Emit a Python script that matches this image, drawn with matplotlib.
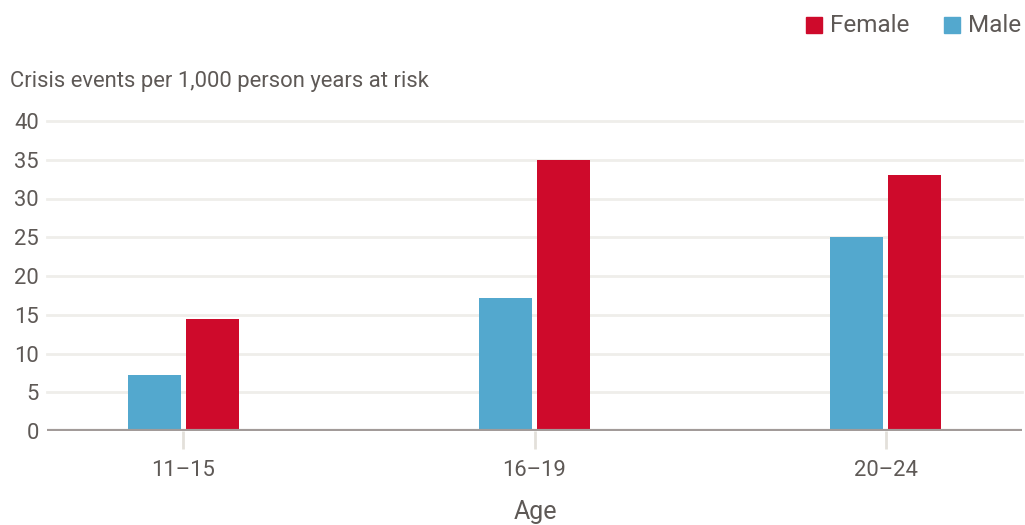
import matplotlib.pyplot as plt
import numpy as np

plt.rcParams['font.family'] = ['Roboto', 'DejaVu Sans']

ages = ['11–15', '16–19', '20–24']
male = [7.2, 17.2, 25.0]
female = [14.5, 35.0, 33.0]
y_ticks = [0, 5, 10, 15, 20, 25, 30, 35, 40]

red = '#ce0a2b'
blue = '#53a8ce'
text_col = '#5e5956'

W, H = 1025, 525
fig = plt.figure(figsize=(W / 100, H / 100), dpi=100)
ax = fig.add_axes([47 / W, (H - 431) / H, (1022 - 47) / W, (431 - 121) / H])

x = np.arange(len(ages))
bw = 0.151
gap = 0.0075
ax.bar(x - gap - bw / 2, male, width=bw, color=blue, zorder=3)
ax.bar(x + gap + bw / 2, female, width=bw, color=red, zorder=3)

ax.set_xlim(-0.388, 2.388)
ax.set_ylim(0, 40)
ax.set_yticks(y_ticks)
ax.set_xticks(x)
ax.set_xticklabels(ages)

for v in y_ticks[1:]:
    ax.axhline(v, color='#efeeea', lw=2, zorder=1, clip_on=False)
ax.axhline(0, color='#a29b99', lw=3, zorder=4)

for s in ax.spines.values():
    s.set_visible(False)
ax.tick_params(axis='y', length=0, pad=6, labelsize=15.8, labelcolor=text_col)
ax.tick_params(axis='x', length=13, width=2, color='#e3e0da', pad=8,
               labelsize=15.8, labelcolor=text_col)

fig.text(10 / W, 1 - 82 / H, 'Crisis events per 1,000 person years at risk',
         ha='left', va='center', fontsize=15.8, color=text_col)
fig.text(535 / W, 1 - 512 / H, 'Age', ha='center', va='center',
         fontsize=18, color=text_col)

# legend
fig.patches.append(plt.Rectangle((806 / W, 1 - 33 / H), 16 / W, 16 / H,
                                 transform=fig.transFigure, color=red))
fig.text(830 / W, 1 - 25 / H, 'Female', ha='left', va='center',
         fontsize=17.5, color=text_col)
fig.patches.append(plt.Rectangle((944 / W, 1 - 33 / H), 16 / W, 16 / H,
                                 transform=fig.transFigure, color=blue))
fig.text(968 / W, 1 - 25 / H, 'Male', ha='left', va='center',
         fontsize=17.5, color=text_col)

fig.savefig('out.png', dpi=100)
